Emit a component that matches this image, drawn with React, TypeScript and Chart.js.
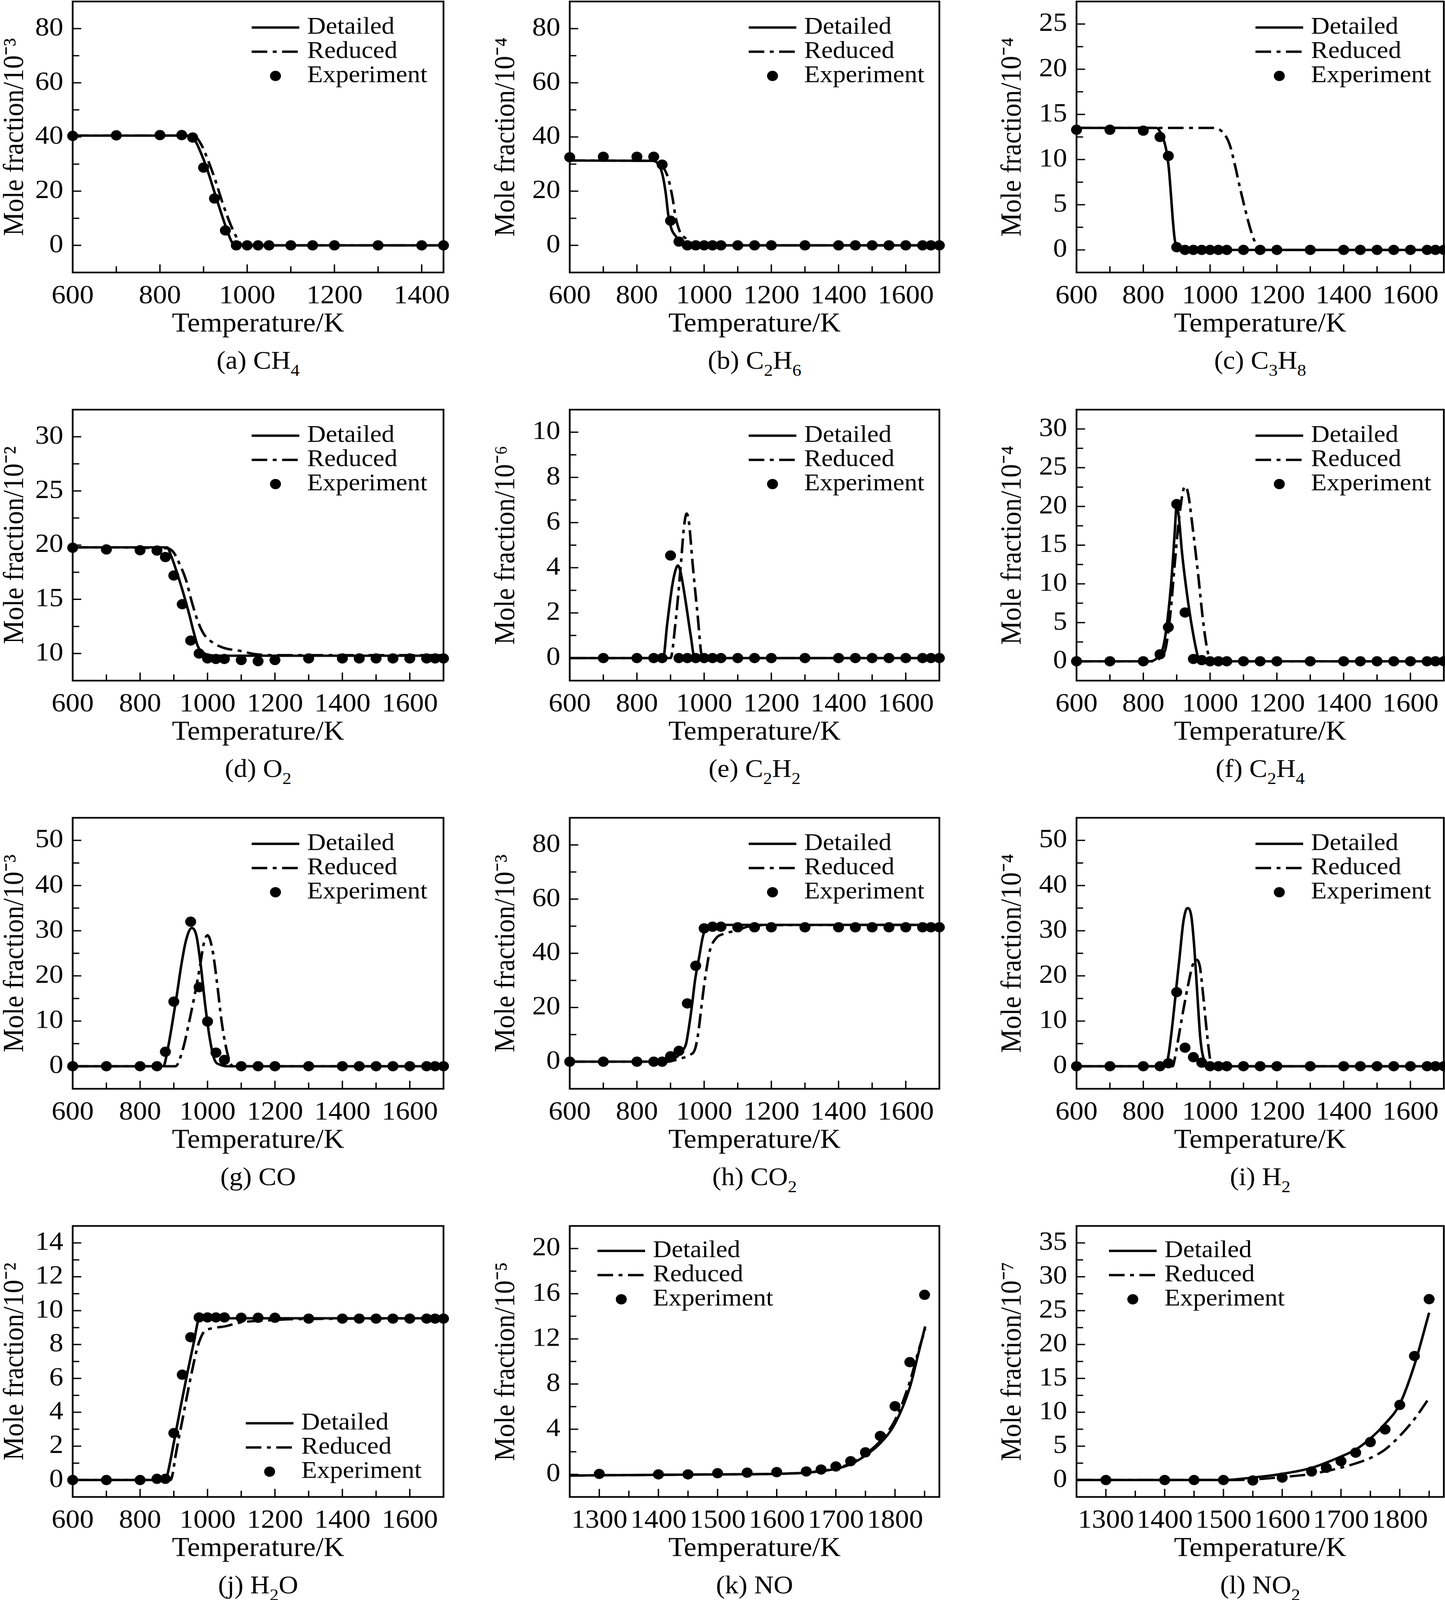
import React, { useEffect, useRef } from "react";
import { Chart, registerables } from "chart.js";

Chart.register(...registerables);

const FONT = "'Liberation Serif', 'Times New Roman', Times, serif";
const FS_LEGEND = 66;
const FS_TICK = 72;
const FS_TITLE = 73;
const FS_CAPTION = 69;

// ---------------- tick lists ----------------
const xTicksA = [600, 800, 1000, 1200, 1400];
const xMinorA = [700, 900, 1100, 1300];
const xTicksStd = [600, 800, 1000, 1200, 1400, 1600];
const xMinorStd = [700, 900, 1100, 1300, 1500];
const xTicksNO = [1300, 1400, 1500, 1600, 1700, 1800];
const xMinorNO = [1350, 1450, 1550, 1650, 1750, 1850];

const yTicks0_80 = [0, 20, 40, 60, 80];
const yMinor0_80 = [10, 30, 50, 70];
const yTicks0_25 = [0, 5, 10, 15, 20, 25];
const yMinor0_25 = [2.5, 7.5, 12.5, 17.5, 22.5];
const yTicks10_30 = [10, 15, 20, 25, 30];
const yMinor10_30 = [12.5, 17.5, 22.5, 27.5];
const yTicks0_10 = [0, 2, 4, 6, 8, 10];
const yMinor0_10 = [1, 3, 5, 7, 9];
const yTicks0_30 = [0, 5, 10, 15, 20, 25, 30];
const yMinor0_30 = [2.5, 7.5, 12.5, 17.5, 22.5, 27.5];
const yTicks0_50 = [0, 10, 20, 30, 40, 50];
const yMinor0_50 = [5, 15, 25, 35, 45];
const yTicks0_14 = [0, 2, 4, 6, 8, 10, 12, 14];
const yMinor0_14 = [1, 3, 5, 7, 9, 11, 13];
const yTicks0_20 = [0, 4, 8, 12, 16, 20];
const yMinor0_20 = [2, 6, 10, 14, 18];
const yTicks0_35 = [0, 5, 10, 15, 20, 25, 30, 35];
const yMinor0_35 = [2.5, 7.5, 12.5, 17.5, 22.5, 27.5, 32.5];

// ---------------- data: [T, value] ----------------
// (a) CH4 /1e-3
const ch4Det = [[600, 40.5], [860, 40.5], [872, 40.1], [882, 38.3], [893, 34.5], [907, 28.7], [929, 17.6], [954, 5.5], [965, 1.2], [975, 0], [1450, 0]];
const ch4Red = [[600, 40.5], [872, 40.5], [885, 39.6], [897, 36.5], [910, 31.5], [925, 25], [945, 15], [965, 6.5], [980, 1.8], [990, 0], [1450, 0]];
const ch4Exp = [[600, 40.4], [700, 40.6], [800, 40.7], [850, 40.7], [875, 39.8], [900, 28.7], [925, 17.3], [950, 5.5], [975, 0], [1000, 0], [1025, 0], [1050, 0], [1100, 0], [1150, 0], [1200, 0], [1300, 0], [1400, 0], [1450, 0]];

// (b) C2H6 /1e-4
const c2h6Det = [[600, 31.3], [845, 31.2], [860, 30.5], [870, 28.5], [878, 25], [886, 19], [893, 11.5], [903, 6], [915, 3.5], [928, 1.8], [950, 0.3], [965, 0], [1700, 0]];
const c2h6Red = [[600, 31.3], [855, 31.2], [868, 30.5], [880, 28.5], [893, 24.8], [906, 17.5], [915, 10.5], [928, 5], [946, 2.5], [962, 0.8], [975, 0], [1700, 0]];
const c2h6Exp = [[600, 32.5], [700, 32.7], [800, 32.7], [850, 32.7], [875, 29.8], [900, 9.1], [925, 1.4], [950, 0], [975, 0], [1000, 0], [1025, 0], [1050, 0], [1100, 0], [1150, 0], [1200, 0], [1300, 0], [1400, 0], [1450, 0], [1500, 0], [1550, 0], [1600, 0], [1650, 0], [1675, 0], [1700, 0]];

// (c) C3H8 /1e-4
const c3h8Det = [[600, 13.5], [840, 13.5], [850, 13.1], [860, 12.3], [868, 11.2], [876, 9.2], [883, 6], [888, 3.5], [894, 1.2], [903, 0.1], [910, 0], [1700, 0]];
const c3h8Red = [[600, 13.5], [1012, 13.5], [1045, 12.7], [1060, 11.5], [1075, 9.3], [1090, 6.8], [1105, 4.5], [1120, 2.4], [1135, 0.8], [1145, 0.1], [1150, 0], [1700, 0]];
const c3h8Exp = [[600, 13.3], [700, 13.3], [800, 13.2], [850, 12.5], [875, 10.4], [900, 0.3], [925, 0], [950, 0], [975, 0], [1000, 0], [1025, 0], [1050, 0], [1100, 0], [1150, 0], [1200, 0], [1300, 0], [1400, 0], [1450, 0], [1500, 0], [1550, 0], [1600, 0], [1650, 0], [1675, 0], [1700, 0]];

// (d) O2 /1e-2
const o2Det = [[600, 19.8], [880, 19.8], [891, 19.1], [909, 17.5], [927, 15.7], [945, 13.7], [958, 12.1], [971, 10.7], [989, 10.05], [1007, 9.85], [1030, 9.8], [1700, 9.8]];
const o2Red = [[600, 19.8], [882, 19.7], [900, 19.3], [918, 18.2], [936, 16.8], [953, 14.8], [971, 13.0], [989, 11.8], [1016, 11.0], [1051, 10.5], [1096, 10.25], [1140, 9.95], [1200, 9.85], [1700, 9.85]];
const o2Exp = [[600, 19.76], [700, 19.6], [800, 19.53], [850, 19.5], [875, 18.9], [900, 17.2], [925, 14.55], [950, 11.2], [975, 10.0], [1000, 9.55], [1025, 9.5], [1050, 9.5], [1100, 9.4], [1150, 9.3], [1200, 9.4], [1300, 9.55], [1400, 9.55], [1450, 9.55], [1500, 9.55], [1550, 9.55], [1600, 9.55], [1650, 9.55], [1675, 9.55], [1700, 9.55]];

// (e) C2H2 /1e-6
const c2h2Det = [[600, 0], [878, 0], [890, 1.5], [905, 3.2], [915, 3.9], [922, 4.1], [930, 3.8], [945, 2.5], [960, 1.0], [972, 0], [1700, 0]];
const c2h2Red = [[600, 0], [900, 0], [915, 1.6], [930, 4.0], [940, 5.8], [948, 6.4], [955, 6.0], [965, 4.3], [980, 2.0], [995, 0], [1700, 0]];
const c2h2Exp = [[700, 0], [800, 0], [850, 0], [875, 0], [900, 4.54], [925, 0], [950, 0], [975, 0], [1000, 0], [1025, 0], [1050, 0], [1100, 0], [1150, 0], [1200, 0], [1300, 0], [1400, 0], [1450, 0], [1500, 0], [1550, 0], [1600, 0], [1650, 0], [1675, 0], [1700, 0]];

// (f) C2H4 /1e-4
const c2h4Det = [[600, 0], [820, 0], [835, 0.2], [848, 0.8], [860, 1.9], [872, 5.2], [885, 10.9], [894, 16.6], [900, 20.1], [906, 18.8], [916, 14.0], [934, 7.7], [952, 2.9], [965, 0.4], [974, 0], [1700, 0]];
const c2h4Red = [[600, 0], [835, 0], [854, 0.7], [867, 1.7], [881, 6.1], [894, 12.5], [908, 18.8], [925, 22.6], [934, 21.7], [948, 17.2], [965, 10.9], [979, 5.2], [992, 1.4], [1002, 0], [1700, 0]];
const c2h4Exp = [[600, 0], [700, 0], [800, 0], [850, 0.9], [875, 4.4], [900, 20.3], [925, 6.3], [950, 0.3], [975, 0.15], [1000, 0], [1025, 0], [1050, 0], [1100, 0], [1150, 0], [1200, 0], [1300, 0], [1400, 0], [1450, 0], [1500, 0], [1550, 0], [1600, 0], [1650, 0], [1675, 0], [1700, 0]];

// (g) CO /1e-3
const coDet = [[600, 0], [869, 0], [882, 3.8], [895, 9.3], [909, 15.8], [922, 22.3], [936, 27.8], [953, 30.6], [967, 28.9], [980, 22.3], [993, 13.6], [1007, 6.0], [1020, 1.6], [1038, 0.3], [1060, 0], [1700, 0]];
const coRed = [[600, 0], [905, 0], [927, 3.8], [944, 9.3], [962, 15.8], [978, 22.3], [989, 27.2], [1000, 29], [1015, 25.6], [1029, 18.0], [1042, 9.8], [1056, 3.8], [1069, 0.5], [1078, 0], [1700, 0]];
const coExp = [[600, 0], [700, 0], [800, 0], [850, 0], [875, 3.2], [900, 14.3], [950, 32.0], [975, 17.5], [1000, 9.9], [1025, 3.0], [1050, 1.4], [1100, 0], [1150, 0], [1200, 0], [1300, 0], [1400, 0], [1450, 0], [1500, 0], [1550, 0], [1600, 0], [1650, 0], [1675, 0], [1700, 0]];

// (h) CO2 /1e-3
const co2Det = [[600, 0], [870, 0], [884, 0.4], [911, 1.1], [937, 4.3], [946, 6.5], [955, 12.9], [964, 21], [973, 30.1], [986, 39.2], [995, 45.5], [1004, 49.2], [1017, 50.5], [1700, 50.5]];
const co2Red = [[600, 0], [895, 0], [902, 0.2], [928, 1.1], [955, 2.4], [973, 4.7], [982, 10.2], [991, 19.2], [1000, 28.3], [1009, 35.6], [1017, 41], [1035, 45.5], [1062, 47.3], [1097, 48.4], [1133, 49.9], [1200, 50.4], [1700, 50.5]];
const co2Exp = [[600, 0], [700, 0], [800, 0], [850, 0], [875, 0], [900, 2.0], [925, 4.0], [950, 21.5], [975, 35.4], [1000, 49.2], [1025, 49.8], [1050, 49.8], [1100, 49.6], [1150, 49.6], [1200, 49.6], [1300, 49.6], [1400, 49.6], [1450, 49.6], [1500, 49.6], [1550, 49.6], [1600, 49.6], [1650, 49.6], [1675, 49.6], [1700, 49.6]];

// (i) H2 /1e-4
const h2Det = [[600, 0], [867, 0], [876, 2.7], [888, 9.8], [898, 16.8], [909, 24.4], [920, 32], [932, 35], [944, 33.1], [953, 26], [962, 15.7], [971, 6], [983, 1.1], [996, 0], [1700, 0]];
const h2Red = [[600, 0], [888, 0], [894, 1.6], [907, 7], [920, 12.5], [934, 17.9], [947, 22.2], [957, 23.6], [969, 22.2], [980, 15.2], [991, 7], [1000, 1.6], [1006, 0], [1700, 0]];
const h2Exp = [[600, 0], [700, 0], [800, 0], [850, 0], [875, 0.65], [900, 16.4], [925, 4.1], [950, 2.0], [975, 0.8], [1000, 0], [1025, 0], [1050, 0], [1100, 0], [1150, 0], [1200, 0], [1300, 0], [1400, 0], [1450, 0], [1500, 0], [1550, 0], [1600, 0], [1650, 0], [1675, 0], [1700, 0]];

// (j) H2O /1e-2
const h2oDet = [[600, 0], [876, 0], [882, 0.4], [900, 2.2], [920, 4.3], [940, 6.3], [960, 8.2], [975, 9.5], [990, 9.55], [1700, 9.55]];
const h2oRed = [[600, 0], [890, 0], [897, 0.4], [904, 1.3], [926, 3.6], [953, 6.34], [971, 7.9], [989, 8.75], [1007, 8.93], [1051, 9.07], [1095, 9.29], [1140, 9.39], [1184, 9.43], [1228, 9.48], [1273, 9.5], [1700, 9.55]];
const h2oExp = [[600, 0], [700, 0], [800, 0], [850, 0.07], [875, 0.07], [900, 2.77], [925, 6.22], [950, 8.43], [975, 9.6], [1000, 9.6], [1025, 9.6], [1050, 9.6], [1100, 9.58], [1150, 9.58], [1200, 9.58], [1300, 9.53], [1400, 9.53], [1450, 9.53], [1500, 9.53], [1550, 9.53], [1600, 9.53], [1650, 9.53], [1675, 9.53], [1700, 9.53]];

// (k) NO /1e-5
const noDet = [[1250, -0.1], [1500, 0], [1600, 0.05], [1651, 0.15], [1699, 0.48], [1725, 0.9], [1750, 1.67], [1775, 2.75], [1800, 4.5], [1825, 7.7], [1840, 10.8], [1851, 13.1]];
const noRed = [[1250, -0.1], [1500, 0], [1600, 0.05], [1651, 0.17], [1699, 0.52], [1725, 0.98], [1750, 1.8], [1775, 2.95], [1800, 4.8], [1825, 8.2], [1840, 11.0], [1851, 12.9]];
const noExp = [[1300, 0.04], [1400, 0], [1450, 0], [1500, 0.1], [1550, 0.15], [1600, 0.2], [1650, 0.26], [1675, 0.43], [1700, 0.7], [1725, 1.17], [1750, 1.95], [1775, 3.4], [1800, 6.04], [1825, 9.94], [1850, 15.9]];

// (l) NO2 /1e-7
const no2Det = [[1250, 0], [1500, 0], [1549, 0.36], [1599, 0.9], [1650, 1.8], [1699, 3.43], [1725, 4.5], [1750, 6.13], [1775, 8.3], [1800, 11.2], [1825, 17], [1850, 24.7]];
const no2Red = [[1250, 0], [1500, 0], [1549, 0.07], [1599, 0.43], [1650, 0.9], [1699, 1.8], [1725, 2.45], [1750, 3.25], [1775, 4.5], [1800, 6.5], [1825, 9.0], [1850, 12.1]];
const no2Exp = [[1300, 0], [1400, 0], [1450, 0], [1500, 0], [1550, -0.07], [1600, 0.36], [1650, 1.26], [1675, 1.8], [1700, 2.78], [1725, 4.04], [1750, 5.6], [1775, 7.47], [1800, 11.08], [1825, 18.3], [1850, 26.7]];

// ---------------- layout (design pixels) ----------------
const DESIGN_W = 3698;
const DESIGN_H = 4363;
const COL_LEFT = [186, 1458, 2755];
const COL_W = [949, 946, 940];
const ROW_TOP = [4, 1117, 2230, 3343];
const BOX_H = 739;
const LY = [190, 205, 206];
const LX = 200;
const PAD_T = 70;
const PAD_R = 45;
const CAPTION_DY = 240;
const DASH = [40, 14, 10, 14];
const LINE_W = 6.5;
const DOT_R = 14;

type PanelDef = {
  row: number; col: number; caption: string; yTitle: string;
  xMin: number; xMax: number; yMin: number; yMax: number;
  xMajor: number[]; xMinor: number[]; yMajor: number[]; yMinor: number[];
  det: number[][]; red: number[][]; exp: number[][];
  legend: [number, number];
};

const LEG_TR: [number, number] = [458, 71];

const panels: PanelDef[] = [
  { row: 0, col: 0, caption: "(a) CH_4", yTitle: "Mole fraction/10⁻³", xMin: 600, xMax: 1450, yMin: -10, yMax: 90, xMajor: xTicksA, xMinor: xMinorA, yMajor: yTicks0_80, yMinor: yMinor0_80, det: ch4Det, red: ch4Red, exp: ch4Exp, legend: LEG_TR },
  { row: 0, col: 1, caption: "(b) C_2H_6", yTitle: "Mole fraction/10⁻⁴", xMin: 600, xMax: 1700, yMin: -10, yMax: 90, xMajor: xTicksStd, xMinor: xMinorStd, yMajor: yTicks0_80, yMinor: yMinor0_80, det: c2h6Det, red: c2h6Red, exp: c2h6Exp, legend: LEG_TR },
  { row: 0, col: 2, caption: "(c) C_3H_8", yTitle: "Mole fraction/10⁻⁴", xMin: 600, xMax: 1700, yMin: -2.5, yMax: 27.5, xMajor: xTicksStd, xMinor: xMinorStd, yMajor: yTicks0_25, yMinor: yMinor0_25, det: c3h8Det, red: c3h8Red, exp: c3h8Exp, legend: LEG_TR },
  { row: 1, col: 0, caption: "(d) O_2", yTitle: "Mole fraction/10⁻²", xMin: 600, xMax: 1700, yMin: 7.5, yMax: 32.5, xMajor: xTicksStd, xMinor: xMinorStd, yMajor: yTicks10_30, yMinor: yMinor10_30, det: o2Det, red: o2Red, exp: o2Exp, legend: LEG_TR },
  { row: 1, col: 1, caption: "(e) C_2H_2", yTitle: "Mole fraction/10⁻⁶", xMin: 600, xMax: 1700, yMin: -1, yMax: 11, xMajor: xTicksStd, xMinor: xMinorStd, yMajor: yTicks0_10, yMinor: yMinor0_10, det: c2h2Det, red: c2h2Red, exp: c2h2Exp, legend: LEG_TR },
  { row: 1, col: 2, caption: "(f) C_2H_4", yTitle: "Mole fraction/10⁻⁴", xMin: 600, xMax: 1700, yMin: -2.5, yMax: 32.5, xMajor: xTicksStd, xMinor: xMinorStd, yMajor: yTicks0_30, yMinor: yMinor0_30, det: c2h4Det, red: c2h4Red, exp: c2h4Exp, legend: LEG_TR },
  { row: 2, col: 0, caption: "(g) CO", yTitle: "Mole fraction/10⁻³", xMin: 600, xMax: 1700, yMin: -5, yMax: 55, xMajor: xTicksStd, xMinor: xMinorStd, yMajor: yTicks0_50, yMinor: yMinor0_50, det: coDet, red: coRed, exp: coExp, legend: LEG_TR },
  { row: 2, col: 1, caption: "(h) CO_2", yTitle: "Mole fraction/10⁻³", xMin: 600, xMax: 1700, yMin: -10, yMax: 90, xMajor: xTicksStd, xMinor: xMinorStd, yMajor: yTicks0_80, yMinor: yMinor0_80, det: co2Det, red: co2Red, exp: co2Exp, legend: LEG_TR },
  { row: 2, col: 2, caption: "(i) H_2", yTitle: "Mole fraction/10⁻⁴", xMin: 600, xMax: 1700, yMin: -5, yMax: 55, xMajor: xTicksStd, xMinor: xMinorStd, yMajor: yTicks0_50, yMinor: yMinor0_50, det: h2Det, red: h2Red, exp: h2Exp, legend: LEG_TR },
  { row: 3, col: 0, caption: "(j) H_2O", yTitle: "Mole fraction/10⁻²", xMin: 600, xMax: 1700, yMin: -1, yMax: 15, xMajor: xTicksStd, xMinor: xMinorStd, yMajor: yTicks0_14, yMinor: yMinor0_14, det: h2oDet, red: h2oRed, exp: h2oExp, legend: [443, 538] },
  { row: 3, col: 1, caption: "(k) NO", yTitle: "Mole fraction/10⁻⁵", xMin: 1250, xMax: 1875, yMin: -2, yMax: 22, xMajor: xTicksNO, xMinor: xMinorNO, yMajor: yTicks0_20, yMinor: yMinor0_20, det: noDet, red: noRed, exp: noExp, legend: [71, 68] },
  { row: 3, col: 2, caption: "(l) NO_2", yTitle: "Mole fraction/10⁻⁷", xMin: 1250, xMax: 1875, yMin: -2.5, yMax: 37.5, xMajor: xTicksNO, xMinor: xMinorNO, yMajor: yTicks0_35, yMinor: yMinor0_35, det: no2Det, red: no2Red, exp: no2Exp, legend: [83, 68] },
];

const toXY = (arr: number[][]) => arr.map(([x, y]) => ({ x, y }));

function PanelChart({ p }: { p: PanelDef }) {
  const ref = useRef<HTMLCanvasElement | null>(null);
  const ly = LY[p.col];
  const bw = COL_W[p.col];
  const cw = ly + bw + PAD_R;
  const chh = PAD_T + BOX_H + LX;

  useEffect(() => {
    const canvas = ref.current;
    if (!canvas) return;
    const framePlugin = {
      id: "frameAndLegend",
      afterDraw(chart: any) {
        const { ctx, chartArea: a, scales } = chart;
        const xs = scales.x;
        const ys = scales.y;
        ctx.save();
        ctx.strokeStyle = "#000";
        ctx.fillStyle = "#000";
        ctx.lineWidth = 3.5;
        ctx.setLineDash([]);
        ctx.beginPath();
        for (const v of p.xMajor) {
          const px = xs.getPixelForValue(v);
          ctx.moveTo(px, a.bottom);
          ctx.lineTo(px, a.bottom - 22);
        }
        for (const v of p.xMinor) {
          const px = xs.getPixelForValue(v);
          ctx.moveTo(px, a.bottom);
          ctx.lineTo(px, a.bottom - 17);
        }
        for (const v of p.yMajor) {
          const py = ys.getPixelForValue(v);
          ctx.moveTo(a.left, py);
          ctx.lineTo(a.left + 22, py);
        }
        for (const v of p.yMinor) {
          const py = ys.getPixelForValue(v);
          ctx.moveTo(a.left, py);
          ctx.lineTo(a.left + 17, py);
        }
        ctx.stroke();
        ctx.lineWidth = 4.5;
        ctx.strokeRect(a.left, a.top, a.right - a.left, a.bottom - a.top);

        // legend
        const ds = chart.data.datasets;
        const lx = a.left + p.legend[0];
        const ly0 = a.top + p.legend[1];
        const step = 66;
        ctx.font = `${FS_LEGEND}px ${FONT}`;
        ctx.textBaseline = "middle";
        ctx.textAlign = "left";
        ctx.lineWidth = LINE_W;
        ctx.setLineDash([]);
        ctx.beginPath();
        ctx.moveTo(lx, ly0);
        ctx.lineTo(lx + 122, ly0);
        ctx.stroke();
        ctx.fillText(ds[0].label, lx + 142, ly0);
        ctx.setLineDash(DASH);
        ctx.beginPath();
        ctx.moveTo(lx, ly0 + step);
        ctx.lineTo(lx + 122, ly0 + step);
        ctx.stroke();
        ctx.setLineDash([]);
        ctx.fillText(ds[1].label, lx + 142, ly0 + step);
        ctx.beginPath();
        ctx.arc(lx + 61, ly0 + 2 * step, DOT_R, 0, Math.PI * 2);
        ctx.fill();
        ctx.fillText(ds[2].label, lx + 142, ly0 + 2 * step);
        ctx.restore();
      },
    };

    const tickFont = { family: FONT, size: FS_TICK };
    const titleFont = { family: FONT, size: FS_TITLE };
    const chart = new Chart(canvas, {
      type: "scatter",
      data: {
        datasets: [
          { label: "Detailed", data: toXY(p.det), showLine: true, borderColor: "#000", borderWidth: LINE_W, pointRadius: 0, cubicInterpolationMode: "monotone", fill: false } as any,
          { label: "Reduced", data: toXY(p.red), showLine: true, borderColor: "#000", borderWidth: LINE_W, borderDash: DASH, pointRadius: 0, cubicInterpolationMode: "monotone", fill: false } as any,
          { label: "Experiment", data: toXY(p.exp), showLine: false, pointRadius: DOT_R, pointBackgroundColor: "#000", pointBorderWidth: 0, backgroundColor: "#000", clip: 16 } as any,
        ],
      },
      options: {
        animation: false,
        responsive: false,
        devicePixelRatio: 1,
        events: [],
        layout: { padding: { top: PAD_T, right: PAD_R, left: 0, bottom: 0 } },
        plugins: { legend: { display: false }, tooltip: { enabled: false } },
        scales: {
          x: {
            type: "linear",
            min: p.xMin,
            max: p.xMax,
            afterBuildTicks: (s: any) => { s.ticks = p.xMajor.map((v) => ({ value: v })); },
            afterFit: (s: any) => { s.height = LX; },
            grid: { display: false, drawTicks: false },
            border: { display: false },
            ticks: { color: "#000", font: tickFont, padding: 22, maxRotation: 0, autoSkip: false, callback: (v: any) => String(v) },
            title: { display: true, text: "Temperature/K", color: "#000", font: titleFont, padding: { top: 0, bottom: 14 } },
          },
          y: {
            type: "linear",
            min: p.yMin,
            max: p.yMax,
            afterBuildTicks: (s: any) => { s.ticks = p.yMajor.map((v) => ({ value: v })); },
            afterFit: (s: any) => { s.width = ly; },
            grid: { display: false, drawTicks: false },
            border: { display: false },
            ticks: { color: "#000", font: tickFont, padding: 24, autoSkip: false, callback: (v: any) => String(v) },
            title: { display: true, text: p.yTitle, color: "#000", font: titleFont, padding: { top: 0, bottom: 0 } },
          },
        },
      } as any,
      plugins: [framePlugin],
    });
    return () => chart.destroy();
  }, []);

  return (
    <canvas
      ref={ref}
      width={cw}
      height={chh}
      style={{ position: "absolute", left: COL_LEFT[p.col] - ly, top: ROW_TOP[p.row] - PAD_T, width: cw, height: chh }}
    />
  );
}

function Caption({ p }: { p: PanelDef }) {
  const parts = p.caption.split(/_(\d)/);
  return (
    <div
      style={{
        position: "absolute",
        left: COL_LEFT[p.col],
        width: COL_W[p.col],
        top: ROW_TOP[p.row] + BOX_H + CAPTION_DY - 40,
        height: 80,
        lineHeight: "80px",
        textAlign: "center",
        fontFamily: FONT,
        fontSize: FS_CAPTION,
        color: "#000",
        whiteSpace: "nowrap",
      }}
    >
      {parts.map((s, i) =>
        i % 2 === 1 ? (
          <span key={i} style={{ fontSize: 46, position: "relative", top: 19 }}>{s}</span>
        ) : (
          <span key={i}>{s}</span>
        )
      )}
    </div>
  );
}

export default function App() {
  const vw = typeof window !== "undefined" && window.innerWidth ? window.innerWidth : DESIGN_W;
  const vh = typeof window !== "undefined" && window.innerHeight ? window.innerHeight : DESIGN_H;
  const sx = vw / DESIGN_W;
  const sy = vh / DESIGN_H;
  return (
    <div style={{ position: "absolute", left: 0, top: 0, width: vw, height: vh, overflow: "hidden", background: "#fff" }}>
      <div
        style={{
          position: "absolute",
          left: 0,
          top: 0,
          width: DESIGN_W,
          height: DESIGN_H,
          transform: `scale(${sx}, ${sy})`,
          transformOrigin: "0 0",
          background: "#fff",
        }}
      >
        {panels.map((p, i) => (
          <Caption key={"c" + i} p={p} />
        ))}
        {panels.map((p, i) => (
          <PanelChart key={"p" + i} p={p} />
        ))}
      </div>
    </div>
  );
}
